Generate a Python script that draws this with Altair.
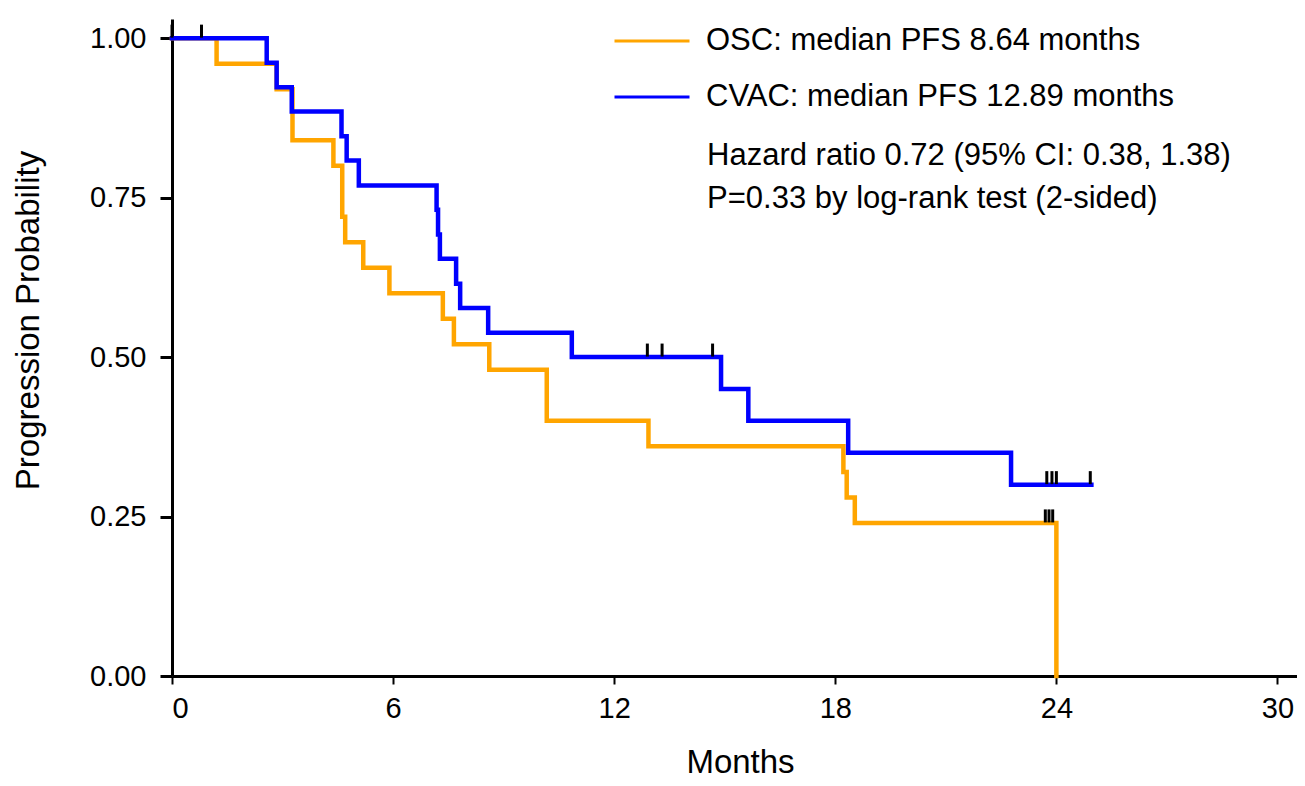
import altair as alt
import pandas as pd

# ---- data ----
osc_label = "OSC: median PFS 8.64 months"
cvac_label = "CVAC: median PFS 12.89 months"

osc_times = [0, 1.21, 2.84, 3.27, 4.38, 4.62, 4.70, 5.19, 5.90, 7.35, 7.65, 8.61, 10.17, 12.93, 18.22, 18.31, 18.53, 24.0]
osc_surv = [1.0, 0.96, 0.92, 0.84, 0.80, 0.72, 0.68, 0.64, 0.60, 0.56, 0.52, 0.48, 0.40, 0.36, 0.32, 0.28, 0.24, 0.0]

cvac_times = [0, 2.57, 2.84, 3.25, 4.60, 4.74, 5.07, 7.18, 7.22, 7.27, 7.71, 7.82, 8.58, 10.85, 14.90, 15.64, 18.35, 22.77, 24.95]
cvac_surv = [1.0, 0.9615, 0.923, 0.885, 0.846, 0.808, 0.769, 0.731, 0.692, 0.654, 0.615, 0.577, 0.538, 0.50, 0.45, 0.40, 0.35, 0.30, 0.30]

osc_cens_t = [23.70, 23.80, 23.90]
osc_cens_s = [0.24, 0.24, 0.24]
cvac_cens_t = [0.0, 0.80, 12.90, 13.30, 14.67, 23.74, 23.88, 24.00, 24.92]
cvac_cens_s = [1.0, 1.0, 0.50, 0.50, 0.50, 0.30, 0.30, 0.30, 0.30]

annot_text = ["Hazard ratio 0.72 (95% CI: 0.38, 1.38)", "P=0.33 by log-rank test (2-sided)"]
annot_x = [14.52, 14.52]
annot_y = [0.816, 0.748]

x_ticks = [0, 6, 12, 18, 24, 30]
y_ticks = [0, 0.25, 0.5, 0.75, 1.0]

FONT = "Liberation Sans"

curves = pd.DataFrame(
    {"Months": osc_times + cvac_times,
     "Prob": osc_surv + cvac_surv,
     "Group": [osc_label] * len(osc_times) + [cvac_label] * len(cvac_times),
     "Order": list(range(len(osc_times))) + list(range(len(cvac_times)))}
)
cens = pd.DataFrame({"Months": osc_cens_t + cvac_cens_t, "Prob": osc_cens_s + cvac_cens_s})
annot = pd.DataFrame({"x": annot_x, "y": annot_y, "t": annot_text})

xscale = alt.Scale(domain=[0, 30.53], nice=False, zero=False)
yscale = alt.Scale(domain=[0, 1.03], nice=False)

lines = alt.Chart(curves).mark_line(interpolate="step-after", strokeWidth=4.5, strokeCap="square").encode(
    x=alt.X("Months:Q", scale=xscale,
            axis=alt.Axis(values=x_ticks, title="Months", format="d", tickSize=8, tickWidth=2,
                          labelPadding=10, titleX=568, titleY=96, titleBaseline="alphabetic",
                          titleAlign="center")),
    y=alt.Y("Prob:Q", scale=yscale,
            axis=alt.Axis(values=y_ticks, title="Progression Probability", format=".2f",
                          tickSize=12, tickWidth=3, labelPadding=14,
                          titleX=-144, titleY=301, titleAngle=270, titleAlign="center",
                          titleBaseline="middle")),
    color=alt.Color("Group:N",
                    scale=alt.Scale(domain=[osc_label, cvac_label], range=["#FFA500", "#0000FF"]),
                    legend=alt.Legend(title=None, orient="none", legendX=441, legendY=-17,
                                      symbolType="stroke", symbolSize=5625, symbolStrokeWidth=3,
                                      labelFontSize=31, labelFont=FONT, labelColor="black",
                                      labelLimit=800, labelOffset=15, padding=0)),
    order=alt.Order("Order:Q"),
)

ticks = alt.Chart(cens).mark_tick(color="black", opacity=1, thickness=3, size=13,
                                  orient="vertical", yOffset=-7).encode(
    x=alt.X("Months:Q", scale=xscale),
    y=alt.Y("Prob:Q", scale=yscale),
)

text = alt.Chart(annot).mark_text(align="left", baseline="middle", fontSize=31, font=FONT, color="black").encode(
    x=alt.X("x:Q", scale=xscale),
    y=alt.Y("y:Q", scale=yscale),
    text="t:N",
)

chart = alt.layer(lines, ticks, text).properties(
    width=1125, height=657,
    autosize=alt.AutoSizeParams(type="none"),
    padding={"left": 164, "top": 11, "right": 0, "bottom": 102},
).configure_view(stroke=None).configure_axis(
    grid=False, domainColor="black", domainWidth=3, tickColor="black",
    labelFont=FONT, labelFontSize=29, labelColor="black",
    titleFont=FONT, titleFontSize=33, titleColor="black", titleFontWeight="normal",
)

chart.save("out.html", embed_options={"renderer": "svg", "actions": False})
